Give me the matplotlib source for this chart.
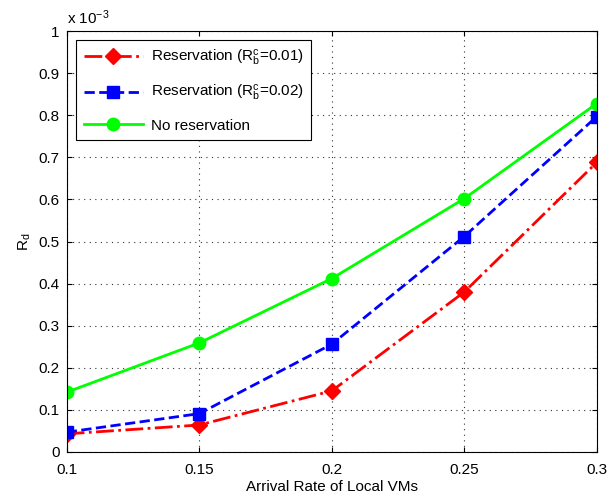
import matplotlib
matplotlib.use("Agg")
import matplotlib.pyplot as plt

matplotlib.rcParams['font.family'] = ['Liberation Sans', 'DejaVu Sans']
matplotlib.rcParams['mathtext.fontset'] = 'custom'
matplotlib.rcParams['mathtext.rm'] = 'Liberation Sans'
matplotlib.rcParams['mathtext.it'] = 'Liberation Sans'

# 数据 (单位 1e-3)
arrival_rate = [0.1, 0.15, 0.2, 0.25, 0.3]
res_001 = [0.043, 0.064, 0.145, 0.38, 0.688]
res_002 = [0.047, 0.091, 0.256, 0.512, 0.797]
no_res = [0.142, 0.259, 0.412, 0.602, 0.828]

x_ticks = [0.1, 0.15, 0.2, 0.25, 0.3]
x_tick_labels = ['0.1', '0.15', '0.2', '0.25', '0.3']
y_ticks = [0, 0.1, 0.2, 0.3, 0.4, 0.5, 0.6, 0.7, 0.8, 0.9, 1]
y_tick_labels = ['0', '0.1', '0.2', '0.3', '0.4', '0.5', '0.6', '0.7', '0.8', '0.9', '1']

fig = plt.figure(figsize=(6.12, 4.95), dpi=100)
ax = fig.add_axes([0.109, 0.087, 0.866, 0.85])

ax.plot(arrival_rate, res_001, color='#ff0000', linestyle='-.', linewidth=2,
        marker='D', markersize=8, label=r'Reservation (R$_\mathrm{b}^\mathrm{c}$=0.01)')
ax.plot(arrival_rate, res_002, color='#0000ff', linestyle='--', linewidth=2,
        marker='s', markersize=8, label=r'Reservation (R$_\mathrm{b}^\mathrm{c}$=0.02)')
ax.plot(arrival_rate, no_res, color='#00ff00', linestyle='-', linewidth=2,
        marker='o', markersize=9, label='No reservation')

ax.set_xlim(0.1, 0.3)
ax.set_ylim(0, 1)
ax.set_xticks(x_ticks)
ax.set_xticklabels(x_tick_labels)
ax.set_yticks(y_ticks)
ax.set_yticklabels(y_tick_labels)
ax.tick_params(direction='in', labelsize=11, top=True, right=True)
ax.tick_params(axis='x', pad=8)
ax.tick_params(axis='y', pad=5)
ax.grid(True, linestyle=(0, (1, 4)), color='#333333', linewidth=0.8)

ax.set_xlabel('Arrival Rate of Local VMs', fontsize=11, labelpad=2)
ax.set_ylabel(r'R$_\mathrm{d}$', fontsize=11)
ax.text(0.0, 1.01, r'x 10$^{-3}$', transform=ax.transAxes, fontsize=11, va='bottom')

leg = ax.legend(loc='upper left', fontsize=11, fancybox=False, framealpha=1,
                edgecolor='black', handlelength=3.9, handletextpad=0.5,
                borderaxespad=0.6, labelspacing=1.0, borderpad=0.5)
leg.get_frame().set_linewidth(0.8)

fig.savefig('out.png', dpi=100)
